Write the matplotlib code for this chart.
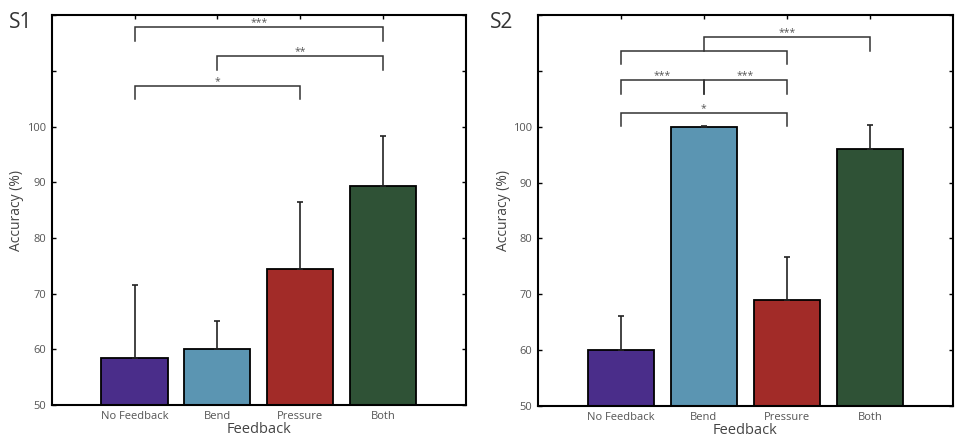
import numpy as np
import matplotlib.pyplot as plt

plt.rcParams['font.family'] = ['Open Sans', 'DejaVu Sans']

# data
categories = ["No Feedback", "Bend", "Pressure", "Both"]
colors = ["#4a2d8a", "#5b95b2", "#a22b28", "#2f5236"]

s1_mean = [58.4, 60.0, 74.5, 89.4]
s1_err = [13.1, 5.0, 11.9, 8.9]
s2_mean = [60.0, 100.0, 68.9, 96.1]
s2_err = [6.2, 0.15, 7.8, 4.2]

# significance brackets: (start bar, end bar, line height, leg bottom, label)
s1_brackets = [
    (1, 4, 117.8, 115.3, "***"),
    (2, 4, 112.6, 110.1, "**"),
    (1, 3, 107.3, 105.0, "*"),
]
s2_brackets = [
    (2, 4, 116.0, 113.6, "***"),
    (1, 3, 113.6, 111.2, ""),
    (1, 2, 108.3, 105.8, "***"),
    (2, 3, 108.3, 105.8, "***"),
    (1, 3, 102.5, 100.1, "*"),
]

fig = plt.figure(figsize=(9.6, 4.42), dpi=100)
ax1 = fig.add_axes([0.054, 0.0837, 0.431, 0.882])
ax2 = fig.add_axes([0.5604, 0.0814, 0.432, 0.8846])


def draw_panel(ax, means, errs, brackets):
    x = np.arange(1, len(categories) + 1)
    ax.bar(x, np.array(means) - 50, bottom=50, width=0.8, color=colors,
           edgecolor="black", linewidth=1.3, zorder=2)
    ax.errorbar(x, means, yerr=[np.zeros(len(errs)), errs], fmt="none",
                ecolor="#222222", elinewidth=1.2, capsize=2, capthick=1.2, zorder=3)
    for xa, xb, y, yl, lab in brackets:
        ax.plot([xa, xa, xb, xb], [yl, y, y, yl], color="#333333", lw=1.1,
                solid_joinstyle="miter", zorder=1)
        if lab:
            ax.text((xa + xb) / 2, y - 0.2, lab, ha="center", va="bottom",
                    fontsize=7.5, color="#555555")
    ax.set_xlim(0, 5)
    ax.set_ylim(50, 120)
    ax.set_xticks(x)
    ax.set_xticklabels(categories)
    ax.set_yticks(np.arange(50, 121, 10))
    ax.set_yticklabels([str(v) if v <= 100 else "" for v in range(50, 121, 10)])
    ax.tick_params(direction="in", top=True, right=True, length=3,
                   labelsize=8, labelcolor="#555555", width=1, pad=4)
    for sp in ax.spines.values():
        sp.set_linewidth(1.5)
    ax.set_xlabel("Feedback", fontsize=10.5, color="#444444", labelpad=0)
    ax.set_ylabel("Accuracy (%)", fontsize=10, color="#444444", labelpad=2)
    return ax


draw_panel(ax1, s1_mean, s1_err, s1_brackets)
draw_panel(ax2, s2_mean, s2_err, s2_brackets)

fig.text(0.009, 0.948, "S1", fontsize=15, color="#333333", va="center")
fig.text(0.51, 0.948, "S2", fontsize=15, color="#333333", va="center")

fig.savefig("out.png", dpi=100)
